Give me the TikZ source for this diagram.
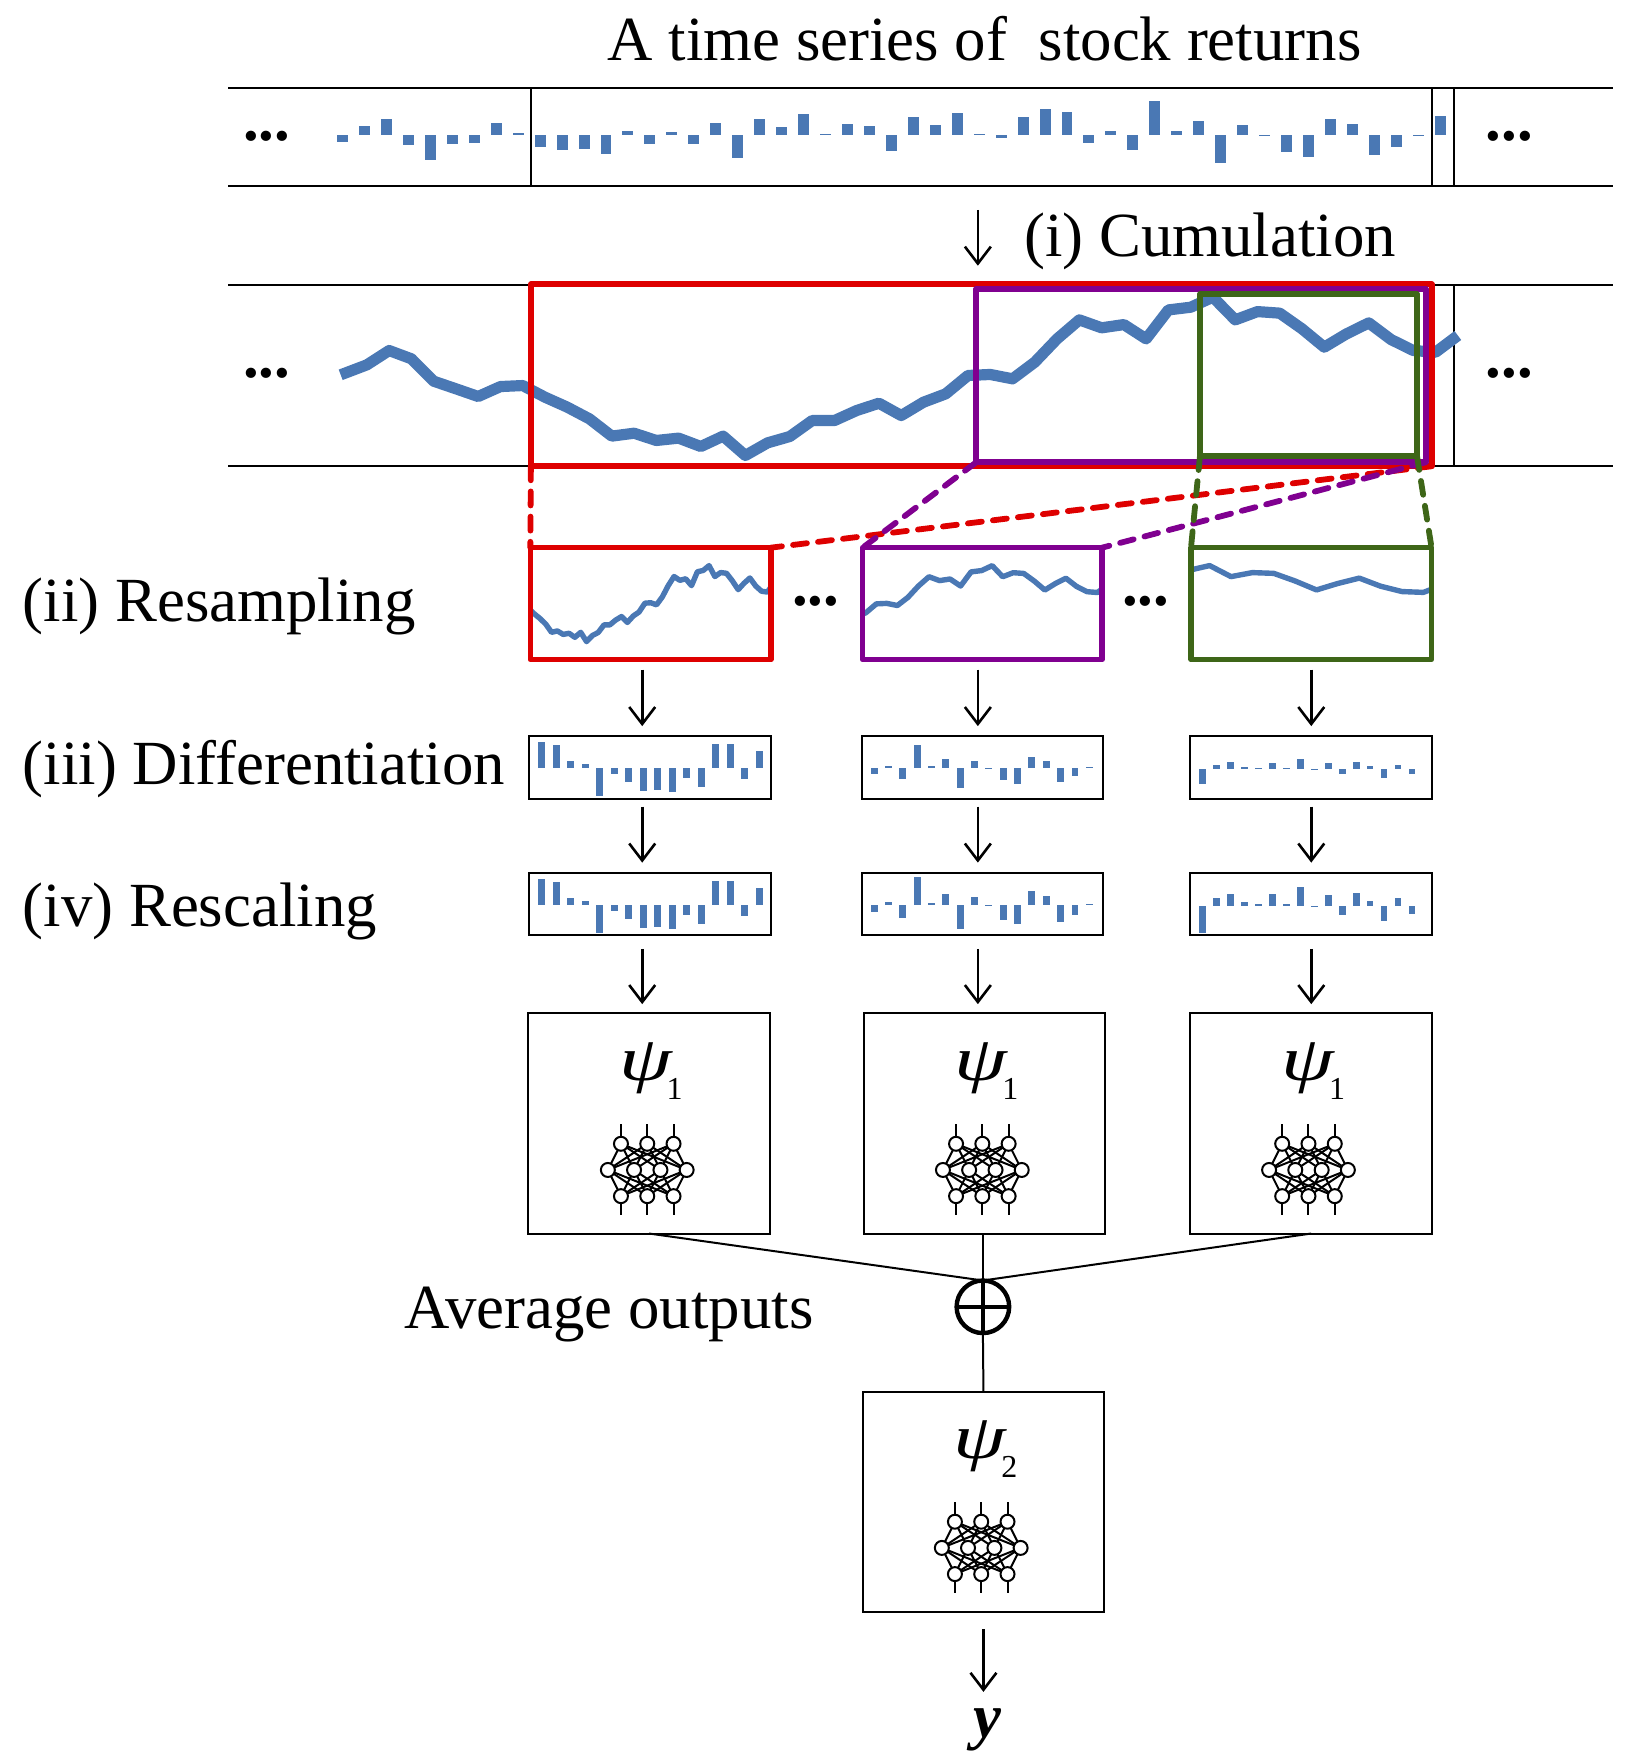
\documentclass[tikz,border=0pt]{standalone}
\usepackage{fontspec}
\setmainfont{Liberation Serif}
\usetikzlibrary{arrows.meta,backgrounds}

\definecolor{barblue}{RGB}{74,120,180}
\definecolor{winred}{RGB}{222,0,0}
\definecolor{winpur}{RGB}{128,0,144}
\definecolor{wingrn}{RGB}{62,102,24}

\def\un{0.56pt}
\def\cumul{(304.5,334.5) (327.9,325.6) (347.8,312.8) (367.7,320.2) (387.6,340.2) (407.5,347) (427.4,353.9) (447.3,345) (467.2,344.1) (487.1,354.5) (507,363.4) (526.9,373.9) (546.8,389.3) (566.7,386.7) (586.6,393.2) (606.5,391.1) (626.4,398.6) (646.3,389.3) (666.2,406.6) (686.1,395.3) (706,389.6) (725.9,375.4) (745.8,375.4) (765.7,366.4) (785.6,359.9) (805.5,370.9) (825.4,359) (845.3,351.5) (865.2,335.1) (885.1,334.2) (905,338.1) (924.9,323.2) (944.8,302.4) (964.7,285.4) (984.6,292.5) (1004.5,289.6) (1024.4,302.4) (1044.3,276.5) (1064.2,274.1) (1084.1,265.1) (1104,285.4) (1123.9,278) (1143.8,279.4) (1163.7,293.4) (1183.6,309.8) (1203.5,297.9) (1223.4,288.1) (1243.3,303) (1263.2,312.8) (1283.1,314.3) (1303,299.4)}

\tikzset{
	lbl/.style={font=\fontsize{31.45pt}{36pt}\selectfont, inner sep=0pt},
	moredots/.style={font=\fontsize{31.45pt}{36pt}\selectfont\bfseries, inner sep=0pt},
	strip/.style={line width=1pt},
	trend/.style={draw=barblue, line join=round},
	framed/.style={draw, line width=1pt, inner sep=0pt, outer sep=0pt},
	window/.style={draw, line width=#1, inner sep=0pt, outer sep=0pt, line join=round},
	zoomline/.style={line width=2.9pt, line cap=round, dash pattern=on 7pt off 5.6pt},
	arrowdn/.style={line width=1.3pt, -{Straight Barb[length=8.5pt,width=13pt]}},
	neuron/.style={circle, draw, line width=1pt, inner sep=0pt, outer sep=0pt, minimum size=7pt},
	nnet/.pic={
		\foreach \x [count=\i] in {-23.5,0,23.5} {
			\node[neuron] (t\i) at (\x,-23.4) {};
			\node[neuron] (b\i) at (\x,23.4) {};
			\draw[line width=1pt] (t\i.north) -- ++(0,11*\un);
			\draw[line width=1pt] (b\i.south) -- ++(0,-11*\un);
		}
		\foreach \x [count=\j] in {-35.2,-11.8,11.8,35.2}
			\node[neuron] (m\j) at (\x,0) {};
		\foreach \i in {1,2,3}
			\foreach \j in {1,2,3,4} {
				\draw[line width=1pt] (t\i) -- (m\j);
				\draw[line width=1pt] (b\i) -- (m\j);
			}
	}
}

\newcommand{\barrow}[5]{
	\foreach \h [count=\i from 0] in {#5}
		\fill[barblue] ({#1+\i*#2-#3/2},#4) rectangle ++(#3,{-\h/3.357});
}
\newcommand{\smalltrend}[5]{
	\begin{pgfonlayer}{background}
		\begin{scope}
			\clip (#1.south west) rectangle (#1.north east);
			\draw[trend, line width=2.7pt, shift={(#2,#3)}, xscale=#4, yscale=#5] plot coordinates {\cumul};
		\end{scope}
	\end{pgfonlayer}
}
\newcommand{\psilabel}[1]{\scalebox{1.35}[1]{\textit{ψ}}\kern-0.1em\raisebox{-0.3em}{\fontsize{16pt}{20pt}\selectfont #1}}

\begin{document}
\begin{tikzpicture}[x=\un, y=-\un]
	\useasboundingbox (-1.5,-0.5) rectangle (1454.5,1569);

	\node[lbl] (title) at (878.5,34) {A time series of\ \ stock returns};
	\node[lbl, anchor=west] (cumlabel) at (913.5,215) {(i) Cumulation};
	\node[lbl, anchor=west] (reslabel) at (18.5,542) {(ii) Resampling};
	\node[lbl, anchor=west] (diflabel) at (18.5,687) {(iii) Differentiation};
	\node[lbl, anchor=west] (sclabel) at (18.5,814) {(iv) Rescaling};
	\node[lbl, anchor=east] (avglabel) at (726,1174) {Average outputs};

	% the two strips
	\draw[strip] (202.5,78) -- (1440,78) (202.5,166) -- (1440,166);
	\draw[strip] (473,78) -- (473,166) (1278,78) -- (1278,166) (1298,78) -- (1298,166);
	\draw[strip] (202.5,254) -- (1440,254) (202.5,416) -- (1440,416);
	\draw[strip] (1298,254) -- (1298,416);

	\node[moredots] (dotsA) at (237,121) {...};
	\node[moredots] (dotsB) at (1347.5,121) {...};
	\node[moredots] (dotsC) at (237,333) {...};
	\node[moredots] (dotsD) at (1347.5,333) {...};
	\node[moredots] (dotsE) at (727.5,537) {...};
	\node[moredots] (dotsF) at (1022.5,537) {...};

	\barrow{304.7}{19.62}{9.8}{120}{-22,27,48,-31,-77,-29,-25,35,5,-38,-45,-43,-58,11,-27,8,-28,36,-70,47,24,61,1,32,25,-49,52,28,64,1,-10,53,78,67,-24,10,-46,101,10,40,-85,30,-5,-52,-67,48,32,-60,-36,-4,55}

	\draw[trend, line width=5.6pt, xshift=-1.5*\un] plot coordinates {\cumul};

	\node[window=3pt, draw=winred, minimum width=805*\un, minimum height=162.5*\un] (bigred) at (875.5,335) {};
	\node[window=3pt, draw=winpur, minimum width=401.8*\un, minimum height=155*\un] (bigpur) at (1071.9,335.2) {};
	\node[window=3pt, draw=wingrn, minimum width=194*\un, minimum height=144.5*\un] (biggrn) at (1168,334.9) {};

	\node[window=2.8pt, draw=winred, minimum width=215*\un, minimum height=100*\un] (winred) at (580,539) {};
	\node[window=2.8pt, draw=winpur, minimum width=214*\un, minimum height=100*\un] (winpur) at (876.5,539) {};
	\node[window=2.8pt, draw=wingrn, minimum width=215*\un, minimum height=100*\un] (wingrn) at (1170.5,539) {};

	\smalltrend{winred}{348.2}{377.8}{.262}{.48}
	\smalltrend{winpur}{372.5}{375.7}{.473}{.488}
	\smalltrend{wingrn}{38.9}{375.9}{.96}{.487}

	\draw[zoomline, winred] (bigred.south west) -- (winred.north west);
	\draw[zoomline, winred] (bigred.south east) -- (winred.north east);
	\draw[zoomline, winpur] (bigpur.south west) -- (winpur.north west);
	\draw[zoomline, winpur] (bigpur.south east) -- (winpur.north east);
	\draw[zoomline, wingrn] (biggrn.south west) -- (wingrn.north west);
	\draw[zoomline, wingrn] (biggrn.south east) -- (wingrn.north east);

	\node[framed, minimum width=216*\un, minimum height=56*\un] (diffred) at (579.5,685.5) {};
	\node[framed, minimum width=216*\un, minimum height=56*\un] (diffpur) at (876.5,685.5) {};
	\node[framed, minimum width=216*\un, minimum height=56*\un] (diffgrn) at (1170,685.5) {};
	\node[framed, minimum width=216*\un, minimum height=56*\un] (scalered) at (579.5,807.5) {};
	\node[framed, minimum width=216*\un, minimum height=56*\un] (scalepur) at (876.5,807.5) {};
	\node[framed, minimum width=216*\un, minimum height=56*\un] (scalegrn) at (1170,807.5) {};

	\barrow{482.8}{12.96}{6.2}{685.8}{78,68,21,12,-85,-18,-41,-70,-66,-72,-31,-58,71,72,-34,50}
	\barrow{482.8}{12.96}{6.2}{808.4}{79,69,21,13,-84,-17,-41,-70,-66,-71,-31,-58,71,72,-34,50}
	\barrow{779.7}{12.83}{6.2}{685.8}{-17,7,-33,69,7,26,-60,20,-3,-37,-48,33,22,-42,-25,2}
	\barrow{779.7}{12.83}{6.2}{808.4}{-20,8,-40,85,7,33,-72,24,-3,-44,-57,41,27,-52,-30,2}
	\barrow{1073}{12.5}{6.2}{686.8}{-45,12,20,7,3,19,3,31,-1,18,-16,20,8,-26,13,-14}
	\barrow{1073}{12.5}{6.2}{809.2}{-82,23,37,13,5,35,5,58,-1,32,-28,38,15,-46,25,-25}

	\node[framed, minimum width=216*\un, minimum height=197*\un] (boxred) at (578.5,1003.5) {};
	\node[framed, minimum width=216*\un, minimum height=197*\un] (boxpur) at (878.5,1003.5) {};
	\node[framed, minimum width=216*\un, minimum height=197*\un] (boxgrn) at (1170.5,1003.5) {};
	\node[framed, minimum width=216*\un, minimum height=197*\un] (boxtwo) at (877.5,1342) {};

	\node[lbl, anchor=west] (psired) at (551.5,957) {\psilabel{1}};
	\node[lbl, anchor=west] (psipur) at (851.5,957) {\psilabel{1}};
	\node[lbl, anchor=west] (psigrn) at (1143.5,957) {\psilabel{1}};
	\node[lbl, anchor=west] (psitwo) at (850.5,1295) {\psilabel{2}};

	\pic (netred) at (577,1045.2) {nnet};
	\pic (netpur) at (876.5,1045.2) {nnet};
	\pic (netgrn) at (1168,1045.2) {nnet};
	\pic (nettwo) at (875.5,1383) {nnet};

	\node[circle, draw, line width=2.2pt, inner sep=0pt, outer sep=0pt, minimum size=47*\un] (avg) at (877,1167.5) {};
	\draw[line width=2.2pt] (avg.north) -- (avg.south) (avg.west) -- (avg.east);

	\draw[line width=1pt] (boxred.south) -- (avg.north);
	\draw[line width=1pt] (boxpur.south -| avg) -- (avg.north);
	\draw[line width=1pt] (boxgrn.south) -- (avg.north);
	\draw[line width=1pt] (avg.south) -- (boxtwo.north);

	\node[lbl] (out) at (881,1546) {\textbf{\textit{y}}};

	\coordinate (cumtop) at (872.5,187);
	\coordinate (cumend) at (872.5,237);
	\draw[arrowdn] (cumtop) -- (cumend);

	\foreach \col/\ax in {red/572.5,pur/872.5,grn/1170.5} {
		\coordinate (ax\col) at (\ax,0);
		\draw[arrowdn, shorten <=9*\un, shorten >=9*\un] (win\col.south -| ax\col) -- (diff\col.north -| ax\col);
		\draw[arrowdn, shorten <=7*\un, shorten >=9*\un] (diff\col.south -| ax\col) -- (scale\col.north -| ax\col);
		\draw[arrowdn, shorten <=12*\un, shorten >=8*\un] (scale\col.south -| ax\col) -- (box\col.north -| ax\col);
	}
	\coordinate (outtop) at (boxtwo.south);
	\draw[arrowdn, shorten <=15*\un, shorten >=15*\un] (outtop) -- (out.north -| outtop);

\end{tikzpicture}
\end{document}
